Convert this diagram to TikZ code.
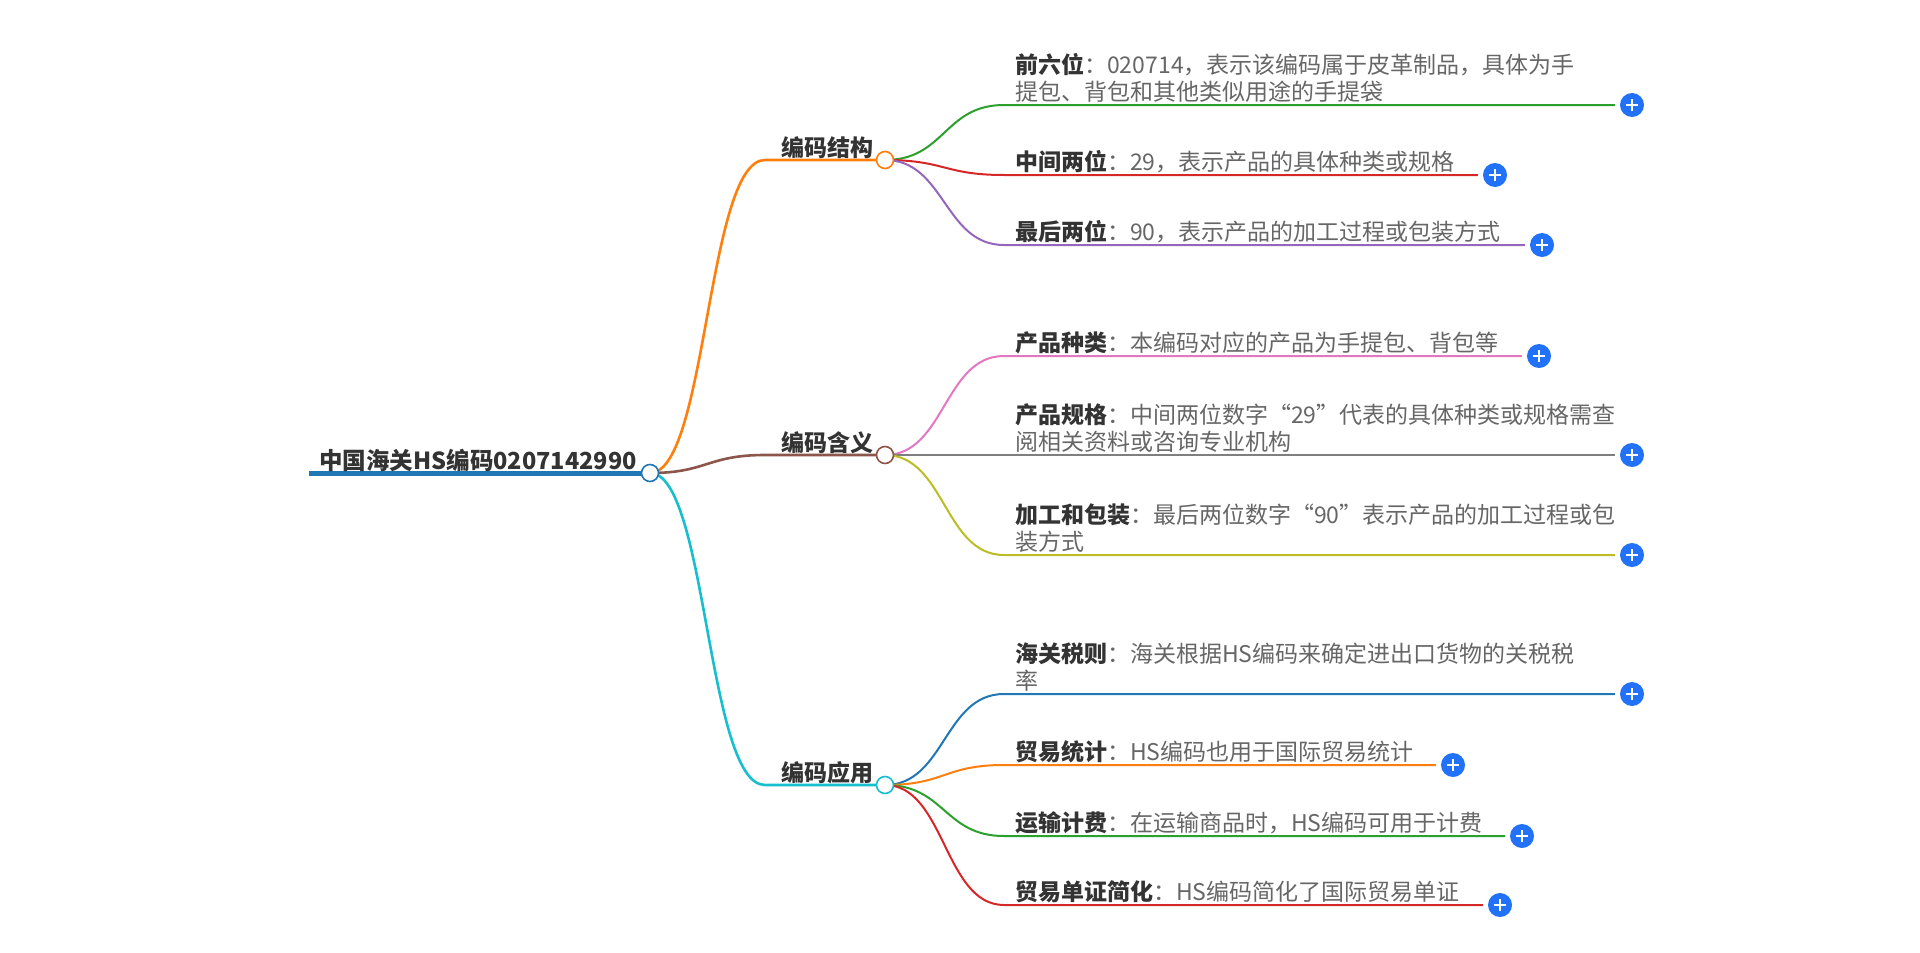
\documentclass[tikz,border=0pt]{standalone}
\usepackage{fontspec}
\setmainfont{Noto Sans CJK SC}
\usetikzlibrary{backgrounds}

\definecolor{rootblue}{HTML}{1F77B4}
\definecolor{tabOrange}{HTML}{FF7F0E}
\definecolor{tabBrown}{HTML}{8C564B}
\definecolor{tabCyan}{HTML}{17BECF}
\definecolor{tabGreen}{HTML}{2CA02C}
\definecolor{tabRed}{HTML}{D62728}
\definecolor{tabPurple}{HTML}{9467BD}
\definecolor{tabPink}{HTML}{E377C2}
\definecolor{tabGray}{HTML}{7F7F7F}
\definecolor{tabOlive}{HTML}{BCBD22}
\definecolor{plusblue}{HTML}{2172F8}
\definecolor{labeltxt}{HTML}{333333}
\definecolor{bodytxt}{HTML}{666666}

\newcommand\lbl[1]{{\bfseries\color{labeltxt}#1}}

\tikzset{
  hub/.style={circle,draw=#1,fill=white,line width=1.6pt,minimum size=17pt,inner sep=0pt},
  branch/.style={draw=#1,line width=2.6pt},
  twig/.style={draw=#1,line width=2pt,shorten >=5pt},
  topic/.style={font=\bfseries\fontsize{23}{27}\selectfont,text=labeltxt,inner sep=0pt,anchor=base east},
  leaf/.style={font=\fontsize{23}{27}\selectfont,text=bodytxt,align=left,inner sep=0pt,anchor=base west},
  more/.style={circle,fill=plusblue,minimum size=24pt,inner sep=0pt,
    path picture={\draw[white,line width=2.6pt]
      ([xshift=-6pt]path picture bounding box.center) -- ([xshift=6pt]path picture bounding box.center)
      ([yshift=-6pt]path picture bounding box.center) -- ([yshift=6pt]path picture bounding box.center);}}
}

\begin{document}
\begin{tikzpicture}[x=1pt,y=-1pt]
\useasboundingbox (0,0) rectangle (1920,953);

% root
\coordinate (rootend) at (309,473);
\node [hub=rootblue] (root) at (650,473) {};
\node [topic,font=\bfseries\fontsize{23.5}{28}\selectfont] (roottxt) at (637,469) {中国海关HS编码0207142990};

% main branches
\node [hub=tabOrange] (enc) at (885,160) {};
\node [hub=tabBrown] (mean) at (885,455) {};
\node [hub=tabCyan] (app) at (885,785) {};
\node [topic] (enctxt) at (874,156) {编码结构};
\node [topic] (meantxt) at (874,451) {编码含义};
\node [topic] (apptxt) at (874,781) {编码应用};
\coordinate (encin) at (765,160);
\coordinate (meanin) at (765,455);
\coordinate (appin) at (765,785);

% leaves
\node [more] (m1) at (1632,105) {};
\node [more] (m2) at (1495,175) {};
\node [more] (m3) at (1542,245) {};
\node [more] (m4) at (1539,356) {};
\node [more] (m5) at (1632,455) {};
\node [more] (m6) at (1632,555) {};
\node [more] (m7) at (1632,694) {};
\node [more] (m8) at (1453,765) {};
\node [more] (m9) at (1522,836) {};
\node [more] (m10) at (1500,905) {};

\node [leaf] (t1) at (1015,100) {\lbl{前六位}：020714，表示该编码属于皮革制品，具体为手\\提包、背包和其他类似用途的手提袋};
\node [leaf] (t2) at (1015,170) {\lbl{中间两位}：29，表示产品的具体种类或规格};
\node [leaf] (t3) at (1015,240) {\lbl{最后两位}：90，表示产品的加工过程或包装方式};
\node [leaf] (t4) at (1015,351) {\lbl{产品种类}：本编码对应的产品为手提包、背包等};
\node [leaf] (t5) at (1015,450) {\lbl{产品规格}：中间两位数字“29”代表的具体种类或规格需查\\阅相关资料或咨询专业机构};
\node [leaf] (t6) at (1015,550) {\lbl{加工和包装}：最后两位数字“90”表示产品的加工过程或包\\装方式};
\node [leaf] (t7) at (1015,689) {\lbl{海关税则}：海关根据HS编码来确定进出口货物的关税税\\率};
\node [leaf] (t8) at (1015,760) {\lbl{贸易统计}：HS编码也用于国际贸易统计};
\node [leaf] (t9) at (1015,831) {\lbl{运输计费}：在运输商品时，HS编码可用于计费};
\node [leaf] (t10) at (1015,900) {\lbl{贸易单证简化}：HS编码简化了国际贸易单证};

\coordinate (l1) at (1004,105);
\coordinate (l2) at (1004,175);
\coordinate (l3) at (1004,245);
\coordinate (l4) at (1004,356);
\coordinate (l5) at (1004,455);
\coordinate (l6) at (1004,555);
\coordinate (l7) at (1004,694);
\coordinate (l8) at (1004,765);
\coordinate (l9) at (1004,836);
\coordinate (l10) at (1004,905);

\begin{scope}[on background layer]
\draw [rootblue,line width=5pt] (rootend) -- (root.center);
\draw [branch=tabOrange] (root.center) .. controls +(57,0) and +(-58,0) .. (encin) -- (enc.center);
\draw [branch=tabBrown] (root.center) .. controls +(57,0) and +(-58,0) .. (meanin) -- (mean.center);
\draw [branch=tabCyan] (root.center) .. controls +(57,0) and +(-58,0) .. (appin) -- (app.center);

\draw [twig=tabGreen] (enc.center) .. controls +(60,0) and +(-60,0) .. (l1) -- (m1.west);
\draw [twig=tabRed] (enc.center) .. controls +(60,0) and +(-60,0) .. (l2) -- (m2.west);
\draw [twig=tabPurple] (enc.center) .. controls +(60,0) and +(-60,0) .. (l3) -- (m3.west);
\draw [twig=tabPink] (mean.center) .. controls +(60,0) and +(-60,0) .. (l4) -- (m4.west);
\draw [twig=tabGray] (mean.center) -- (l5) -- (m5.west);
\draw [twig=tabOlive] (mean.center) .. controls +(60,0) and +(-60,0) .. (l6) -- (m6.west);
\draw [twig=rootblue] (app.center) .. controls +(60,0) and +(-60,0) .. (l7) -- (m7.west);
\draw [twig=tabOrange] (app.center) .. controls +(60,0) and +(-60,0) .. (l8) -- (m8.west);
\draw [twig=tabGreen] (app.center) .. controls +(60,0) and +(-60,0) .. (l9) -- (m9.west);
\draw [twig=tabRed] (app.center) .. controls +(60,0) and +(-60,0) .. (l10) -- (m10.west);
\end{scope}
\end{tikzpicture}
\end{document}
